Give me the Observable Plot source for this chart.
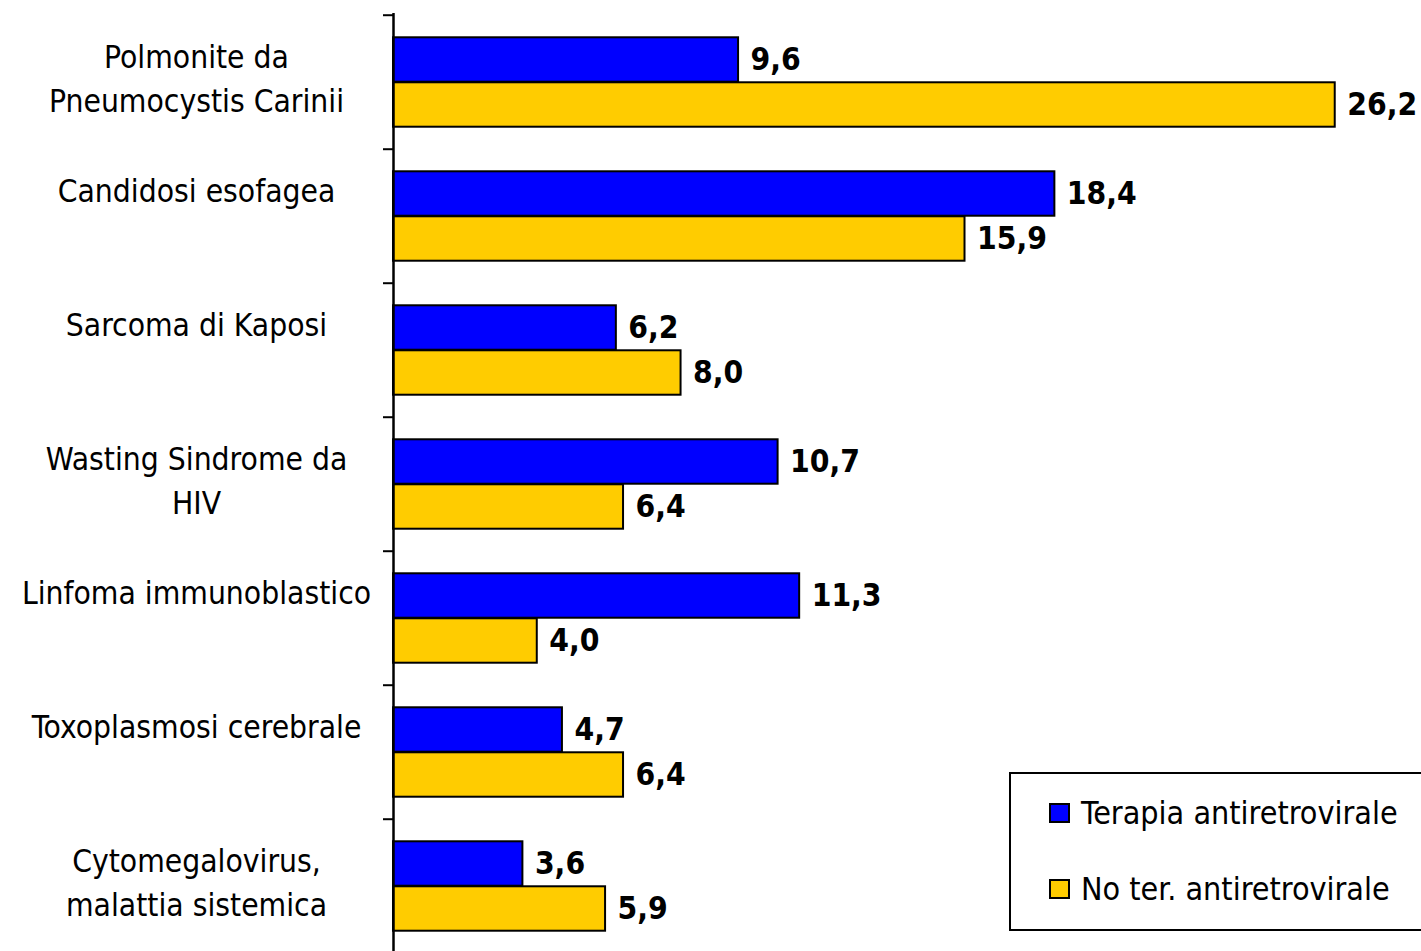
<!DOCTYPE html>
<html>
<head>
<meta charset="utf-8">
<script src="https://cdn.jsdelivr.net/npm/d3@7"></script>
<script src="https://cdn.jsdelivr.net/npm/@observablehq/plot@0.6"></script>
<style>
  html, body { margin: 0; padding: 0; background: #fff; overflow: hidden; }
  #wrap { position: relative; width: 1421px; height: 951px; }
  #legend {
    position: absolute; left: 1009px; top: 772px; width: 430px; height: 159px;
    border: 2px solid #000; background: #fff; box-sizing: border-box;
    font-family: "DejaVu Sans Condensed", "DejaVu Sans", sans-serif; font-size: 32px; color: #000;
  }
  #legend .item { position: absolute; left: 38px; display: flex; align-items: center; white-space: nowrap; }
  #legend .sw { width: 17px; height: 16px; border: 2px solid #000; margin-right: 11px; }
</style>
</head>
<body>
<div id="wrap"></div>
<script>
const categories = [
  "Polmonite da Pneumocystis Carinii",
  "Candidosi esofagea",
  "Sarcoma di Kaposi",
  "Wasting Sindrome da HIV",
  "Linfoma immunoblastico",
  "Toxoplasmosi cerebrale",
  "Cytomegalovirus, malattia sistemica"
];
const categoryLabels = [
  "Polmonite da\nPneumocystis Carinii",
  "Candidosi esofagea",
  "Sarcoma di Kaposi",
  "Wasting Sindrome da\nHIV",
  "Linfoma immunoblastico",
  "Toxoplasmosi cerebrale",
  "Cytomegalovirus,\nmalattia sistemica"
];
const seriesNames = ["Terapia antiretrovirale", "No ter. antiretrovirale"];
const seriesColors = ["#0000FF", "#FFCC00"];
const terapia = [9.6, 18.4, 6.2, 10.7, 11.3, 4.7, 3.6];
const noTerapia = [26.2, 15.9, 8.0, 6.4, 4.0, 6.4, 5.9];

const blue = categories.map((c, i) => ({category: c, value: terapia[i]}));
const yellow = categories.map((c, i) => ({category: c, value: noTerapia[i]}));
const labels = categories.map((c, i) => ({category: c, label: categoryLabels[i]}));

const marginTop = 13;
const height = 955;
const step = (height - marginTop) / categories.length;
const barH = 45;
const gap = (step - 2 * barH) / 2;
const fmt = d => d.toFixed(1).replace(".", ",");
const font = "'DejaVu Sans Condensed', 'DejaVu Sans', sans-serif";

const chart = Plot.plot({
  width: 1421,
  height,
  marginTop,
  marginBottom: 0,
  marginLeft: 393,
  marginRight: 0,
  style: {fontFamily: font, background: "#fff", color: "#000"},
  x: {domain: [0, 28.6], axis: null},
  y: {domain: categories, padding: 0, axis: null},
  marks: [
    Plot.barX(blue, {x: "value", y: "category", fill: seriesColors[0], stroke: "#000", strokeWidth: 2,
      insetTop: gap, insetBottom: gap + barH}),
    Plot.barX(yellow, {x: "value", y: "category", fill: seriesColors[1], stroke: "#000", strokeWidth: 2,
      insetTop: gap + barH, insetBottom: gap}),
    Plot.text(blue, {x: "value", y: "category", text: d => fmt(d.value), dx: 12, dy: -barH / 2,
      textAnchor: "start", fontWeight: "bold", fontSize: 31.5, fill: "#000"}),
    Plot.text(yellow, {x: "value", y: "category", text: d => fmt(d.value), dx: 12, dy: barH / 2,
      textAnchor: "start", fontWeight: "bold", fontSize: 31.5, fill: "#000"}),
    Plot.text(labels, {y: "category", text: "label", frameAnchor: "left", dx: -197, dy: -45,
      textAnchor: "middle", lineAnchor: "top", lineHeight: 1.38, fontSize: 31.5, fill: "#000"}),
    Plot.ruleY(categories, {y: d => d, dy: -step / 2, x1: 0, x2: 0, insetLeft: -10, stroke: "#000", strokeWidth: 2}),
    Plot.ruleX([0], {stroke: "#000", strokeWidth: 2.5})
  ]
});

const wrap = document.getElementById("wrap");
wrap.appendChild(chart);

const legend = document.createElement("div");
legend.id = "legend";
seriesNames.forEach((name, i) => {
  const item = document.createElement("div");
  item.className = "item";
  item.style.top = (i === 0 ? 20 : 96) + "px";
  const sw = document.createElement("div");
  sw.className = "sw";
  sw.style.background = seriesColors[i];
  const t = document.createElement("span");
  t.textContent = name;
  item.appendChild(sw);
  item.appendChild(t);
  legend.appendChild(item);
});
wrap.appendChild(legend);
</script>
</body>
</html>
